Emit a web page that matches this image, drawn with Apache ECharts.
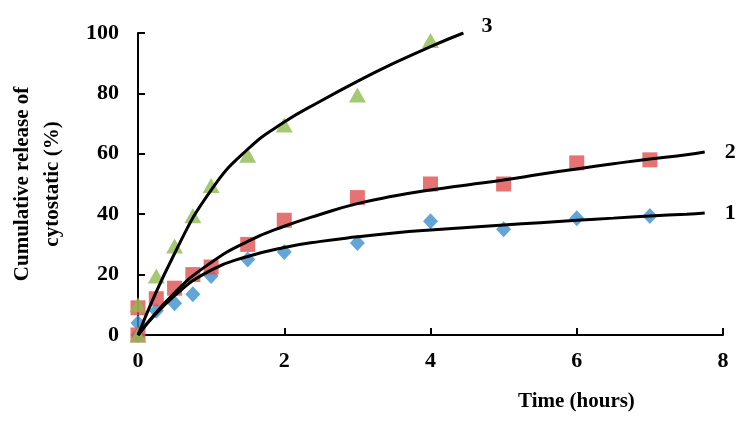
<!DOCTYPE html>
<html>
<head>
<meta charset="utf-8">
<script src="https://cdn.jsdelivr.net/npm/echarts@6/dist/echarts.min.js"></script>
<style>html,body{margin:0;padding:0;background:#fff;}#c{width:749px;height:421px;}</style>
</head>
<body>
<div id="c"></div>
<script>
// Measured points
const series1X = [0, 0, 0.25, 0.5, 0.75, 1, 1.5, 2, 3, 4, 5, 6, 7];
const series1Y = [0, 4, 8, 10.5, 13.5, 19.5, 25, 27.5, 30.5, 37.7, 35, 38.7, 39.4];
const series2X = [0, 0, 0.25, 0.5, 0.75, 1, 1.5, 2, 3, 4, 5, 6, 7];
const series2Y = [0, 9, 12, 15.5, 20, 22.5, 30, 38, 45.5, 50, 50, 57, 58];
const series3X = [0, 0, 0.25, 0.5, 0.75, 1, 1.5, 2, 3, 4];
const series3Y = [0, 10, 19.5, 29.5, 39.5, 49.5, 59.5, 69.5, 79.5, 97.5];
// Fitted curves
const fit12X = [0, 0.5, 1, 1.5, 2, 2.5, 3, 3.5, 4, 4.5, 5, 5.5, 6, 6.5, 7, 7.5, 7.75];
const fit1Y = [0, 13, 21.5, 26, 29, 31, 32.5, 33.8, 34.8, 35.6, 36.4, 37.2, 38, 38.7, 39.4, 40, 40.4];
const fit2Y = [0, 14, 24, 31, 36, 40, 43.5, 46, 48, 49.7, 51.3, 53.2, 55, 56.7, 58.3, 59.7, 60.6];
const fit3X = [0, 0.5, 1, 1.5, 2, 2.5, 3, 3.5, 4, 4.45];
const fit3Y = [0, 27, 48, 61.5, 70.5, 77.5, 84, 90, 95.5, 100];
const curveLabels = ['1', '2', '3'];
const xTicks = [0, 2, 4, 6, 8];
const yTicks = [0, 20, 40, 60, 80, 100];

const zip = (a, b) => a.map((v, i) => [v, b[i]]);
const font = 'Liberation Serif';

function curve(xs, ys, label, offset) {
  return {
    type: 'line', data: zip(xs, ys), smooth: 0.5,
    showSymbol: false, symbol: 'none', z: 5,
    lineStyle: { color: '#000', width: 3 },
    endLabel: { show: true, formatter: label, color: '#000', fontFamily: font,
      fontWeight: 'bold', fontSize: 22, offset: offset }
  };
}

const chart = echarts.init(document.getElementById('c'));
chart.setOption({
  animation: false,
  grid: { left: 133, right: 26, top: 33, bottom: 86 },
  xAxis: {
    type: 'value', min: xTicks[0], max: xTicks[xTicks.length - 1], interval: 2,
    splitLine: { show: false },
    axisLine: { lineStyle: { color: '#000', width: 2 } },
    axisTick: { inside: true, length: 7, lineStyle: { color: '#000', width: 2 } },
    axisLabel: { color: '#000', fontFamily: font, fontWeight: 'bold', fontSize: 22, margin: 15 }
  },
  yAxis: {
    type: 'value', min: yTicks[0], max: yTicks[yTicks.length - 1], interval: 20,
    splitLine: { show: false },
    axisLine: { show: true, lineStyle: { color: '#000', width: 2 } },
    axisTick: { show: true, inside: true, length: 7, lineStyle: { color: '#000', width: 2 } },
    axisLabel: { color: '#000', fontFamily: font, fontWeight: 'bold', fontSize: 22, margin: 19 },
    name: 'Cumulative release of\ncytostatic (%)', nameLocation: 'middle', nameGap: 70,
    nameTextStyle: { color: '#000', fontFamily: font, fontWeight: 'bold', fontSize: 21, lineHeight: 30 }
  },
  graphic: [{
    type: 'text', left: 518, top: 391,
    style: { text: 'Time (hours)', fill: '#000', font: 'bold 21px "Liberation Serif"' }
  }],
  series: [
    { type: 'scatter', data: zip(series1X, series1Y), symbol: 'diamond', symbolSize: [15, 16],
      itemStyle: { color: '#3A8FD0' }, z: 2 },
    { type: 'scatter', data: zip(series2X, series2Y), symbol: 'rect', symbolSize: 15,
      itemStyle: { color: '#E05050' }, z: 3 },
    { type: 'scatter', data: zip(series3X, series3Y), symbol: 'triangle', symbolSize: [17, 15],
      itemStyle: { color: '#8FBC4F' }, z: 4 },
    curve(fit12X, fit1Y, curveLabels[0], [12, 0]),
    curve(fit12X, fit2Y, curveLabels[1], [12, 0]),
    curve(fit3X, fit3Y, curveLabels[2], [10, -7])
  ]
});
</script>
</body>
</html>
